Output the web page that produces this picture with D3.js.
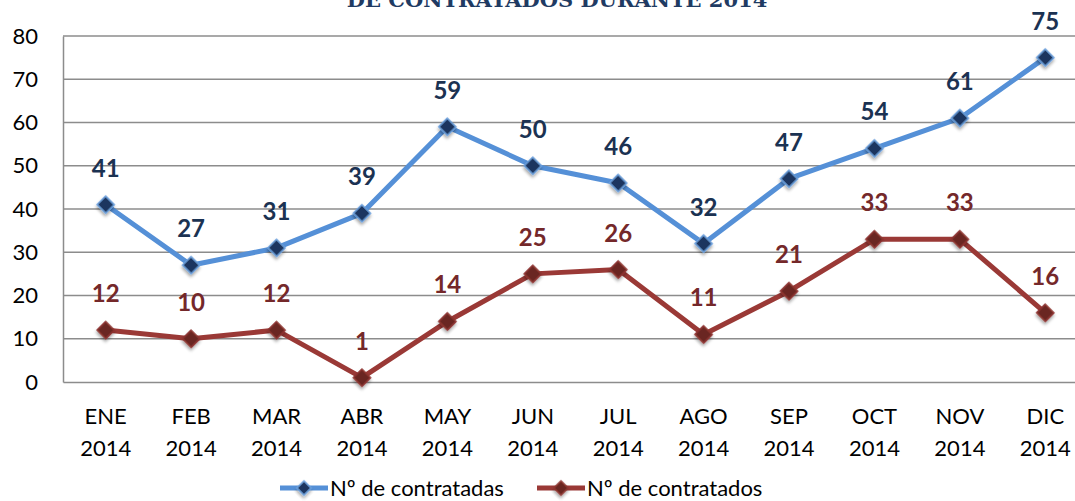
<!DOCTYPE html>
<html>
<head>
<meta charset="utf-8">
<script src="https://cdn.jsdelivr.net/npm/d3@7"></script>
<style>
  body { margin: 0; background: #fff; }
  svg { display: block; font-family: Lato, "Open Sans", sans-serif; }
</style>
</head>
<body>
<div id="chart"></div>
<script>
const months = ["ENE", "FEB", "MAR", "ABR", "MAY", "JUN", "JUL", "AGO", "SEP", "OCT", "NOV", "DIC"];
const year = "2014";
const contratadas = [41, 27, 31, 39, 59, 50, 46, 32, 47, 54, 61, 75];
const contratados = [12, 10, 12, 1, 14, 25, 26, 11, 21, 33, 33, 16];
const yTicks = [0, 10, 20, 30, 40, 50, 60, 70, 80];
const seriesNames = ["Nº de contratadas", "Nº de contratados"];

const W = 1075, H = 501;
const margin = {top: 36, right: -13, bottom: 119, left: 63};
const width = W - margin.left - margin.right;
const height = H - margin.top - margin.bottom;

const svg = d3.select("#chart").append("svg")
    .attr("width", W).attr("height", H);

const defs = svg.append("defs");
const sh = defs.append("filter").attr("id", "shadow").attr("x", "-50%").attr("y", "-50%").attr("width", "200%").attr("height", "200%");
sh.append("feDropShadow").attr("dx", 1.5).attr("dy", 2).attr("stdDeviation", 1.6)
    .attr("flood-color", "#000").attr("flood-opacity", 0.35);

// titulo (cortado arriba, como en el original)
svg.append("text").attr("x", 557).attr("y", 7).attr("text-anchor", "middle")
    .attr("font-family", "'DejaVu Serif', 'Liberation Serif', serif").attr("font-weight", "bold")
    .attr("font-size", 21).attr("fill", "#1F3B63")
    .text("DE CONTRATADOS DURANTE 2014");

const g = svg.append("g").attr("transform", `translate(${margin.left},${margin.top})`);

const x = d3.scaleBand().domain(months).range([0, width]);
const y = d3.scaleLinear().domain([0, 80]).range([height, 0]);
const cx = d => x(d) + x.bandwidth() / 2;

// grid
g.append("g").selectAll("line").data(yTicks.filter(t => t > 0)).enter().append("line")
    .attr("x1", 0).attr("x2", width).attr("y1", d => y(d)).attr("y2", d => y(d))
    .attr("stroke", "#8c8c8c").attr("stroke-width", 1.5);

// ejes
const yAxis = g.append("g").call(d3.axisLeft(y).tickValues(yTicks).tickSize(0).tickPadding(25));
yAxis.select(".domain").attr("stroke", "#8c8c8c").attr("stroke-width", 1.5);
yAxis.selectAll("text").attr("font-size", 22).attr("fill", "#000").attr("font-family", "Lato, sans-serif");

const xAxis = g.append("g").attr("transform", `translate(0,${height})`)
    .call(d3.axisBottom(x).tickSize(0).tickFormat(""));
xAxis.select(".domain").attr("stroke", "#8c8c8c").attr("stroke-width", 1.5);
xAxis.selectAll(".tick").each(function(d) {
    const t = d3.select(this).append("text").attr("fill", "#000").attr("font-size", 22)
        .attr("text-anchor", "middle").attr("font-family", "Lato, sans-serif");
    t.append("tspan").attr("x", 0).attr("y", 42).text(d);
    t.append("tspan").attr("x", 0).attr("y", 74).text(year);
});

const series = [
    {name: seriesNames[0], values: contratadas, line: "#5590D7", fill: "#1B365E", edge: "#6FA3E0", label: "#1B3252"},
    {name: seriesNames[1], values: contratados, line: "#9A3936", fill: "#6A2523", edge: "#8F3431", label: "#74282A"}
];

const diamond = d3.symbol().type(d3.symbolSquare).size(150);

series.forEach(s => {
    const pts = months.map((m, i) => ({m, v: s.values[i]}));
    const line = d3.line().x(d => cx(d.m)).y(d => y(d.v));
    g.append("path").datum(pts).attr("d", line).attr("fill", "none")
        .attr("stroke", s.line).attr("stroke-width", 5).attr("stroke-linejoin", "round");
    g.append("g").selectAll("path").data(pts).enter().append("path")
        .attr("d", diamond).attr("transform", d => `translate(${cx(d.m)},${y(d.v)}) rotate(45)`)
        .attr("fill", s.fill).attr("stroke", s.edge).attr("stroke-width", 1.5)
        .attr("filter", "url(#shadow)");
    g.append("g").selectAll("text").data(pts).enter().append("text")
        .attr("x", d => cx(d.m)).attr("y", d => y(d.v) - 28)
        .attr("text-anchor", "middle").attr("font-size", 24).attr("font-weight", "bold")
        .attr("fill", s.label).text(d => d.v);
});

// leyenda
const legend = svg.append("g").attr("transform", "translate(0,488)");
const legendX = [280, 537];
series.forEach((s, i) => {
    const lg = legend.append("g").attr("transform", `translate(${legendX[i]},0)`);
    lg.append("line").attr("x1", 0).attr("x2", 48).attr("stroke", s.line).attr("stroke-width", 5);
    lg.append("path").attr("d", d3.symbol().type(d3.symbolSquare).size(100))
        .attr("transform", "translate(24,0) rotate(45)").attr("fill", s.fill).attr("stroke", s.edge).attr("stroke-width", 1.5)
        .attr("filter", "url(#shadow)");
    lg.append("text").attr("x", 50).attr("y", 8).attr("font-size", 22).attr("fill", "#000").text(s.name);
});
</script>
</body>
</html>
